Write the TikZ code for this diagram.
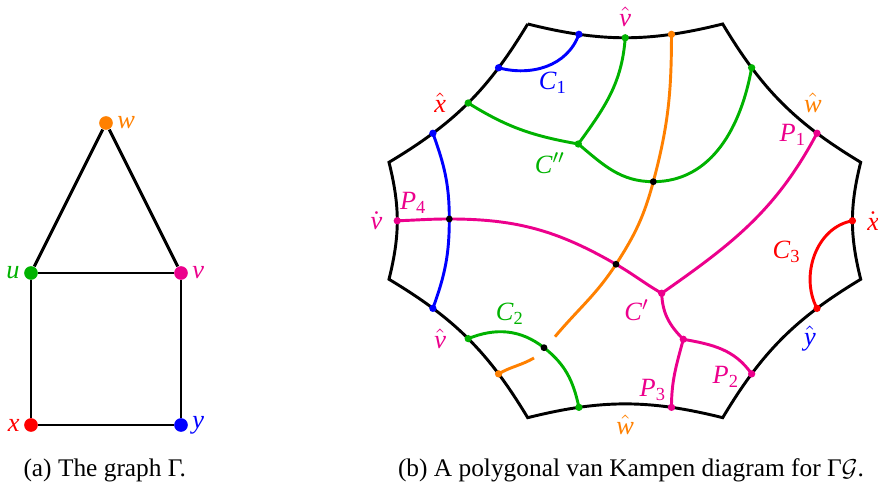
\documentclass[tikz,border=0pt]{standalone}
\usepackage{amsmath}
\usepackage{fontspec}
\setmainfont{Liberation Serif}
\usetikzlibrary{arrows.meta,positioning}
\definecolor{vorange}{RGB}{255,128,0}
\definecolor{vgreen}{RGB}{0,178,0}
\definecolor{vpink}{RGB}{236,0,140}
\definecolor{vred}{RGB}{255,0,0}
\definecolor{vblue}{RGB}{0,0,255}
\newcommand{\mi}[1]{\textit{#1}}

\begin{document}
\begin{tikzpicture}[
  x=0.41pt,y=0.41pt,
  every node/.style={font=\fontsize{10.4pt}{12pt}\selectfont},
  vertex/.style={circle,fill=#1,inner sep=0pt,minimum size=5.6pt},
  bdot/.style={circle,fill=#1,inner sep=0pt,minimum size=3pt},
  crossing/.style={circle,fill=black,inner sep=0pt,minimum size=2.8pt},
  link/.style={line width=1.2pt,black},
  rim/.style={line width=1.2pt,black},
  wall/.style={line width=1.2pt,#1},
  lab/.style={text=#1,inner sep=1.5pt,font=\fontsize{10.8pt}{12pt}\selectfont},
]
\useasboundingbox (0,0) rectangle (878,488);

% (a) the graph
\node[vertex=vorange] (w) at (106,365) {};
\node[vertex=vgreen] (u) at (31,215) {};
\node[vertex=vpink] (v) at (181,215) {};
\node[vertex=vred] (x) at (31,63) {};
\node[vertex=vblue] (y) at (181,63) {};
\node[lab=vorange,right=0pt of w] (wl) {$\mi{w}$};
\node[lab=vgreen,left=0pt of u] (ul) {$\mi{u}$};
\node[lab=vpink,right=0pt of v] (vl) {$\mi{v}$};
\node[lab=vred,left=0pt of x] (xl) {$\mi{x}$};
\node[lab=vblue,right=0pt of y] (yl) {$\mi{y}$};
\draw[link] (u) -- (w) -- (v);
\draw[link] (u) -- (v) -- (y) -- (x) -- (u);

% (b) the octagon
\coordinate (A) at (527.7,464);
\coordinate (B) at (722.7,464);
\coordinate (C) at (860.7,325.7);
\coordinate (D) at (860.7,208.7);
\coordinate (E) at (722.7,70.3);
\coordinate (F) at (527.7,70.3);
\coordinate (G) at (389,208.7);
\coordinate (H) at (389,325.7);

\draw[rim] (A)
  to[bend right=14] coordinate[pos=.25] (t1) coordinate[pos=.5] (t2) coordinate[pos=.75] (t3)
    node[pos=.5,above=2.5pt,lab=vpink] (lt) {$\hat{\mi{v}}$} (B)
  to[bend right=14] coordinate[pos=.25] (r1) coordinate[pos=.75] (r2)
    node[pos=.5,right=7pt,lab=vorange] (lr) {$\hat{\mi{w}}$} (C)
  to[bend right=14] coordinate[pos=.5] (r3)
    node[pos=.5,right=4pt,lab=vred] (lx) {$\dot{\mi{x}}$} (D)
  to[bend right=14] coordinate[pos=.25] (r4) coordinate[pos=.75] (r5)
    node[pos=.5,right=7pt,lab=vblue] (ly) {$\hat{\mi{y}}$} (E)
  to[bend right=14] coordinate[pos=.25] (b1) coordinate[pos=.75] (b2)
    node[pos=.5,below=2.5pt,lab=vorange] (lb) {$\hat{\mi{w}}$} (F)
  to[bend right=14] coordinate[pos=.25] (l1) coordinate[pos=.5] (l2) coordinate[pos=.75] (l3)
    node[pos=.5,left=7pt,lab=vpink] (ll) {$\hat{\mi{v}}$} (G)
  to[bend right=14] coordinate[pos=.5] (l4)
    node[pos=.5,left=4pt,lab=vpink] (lv) {$\dot{\mi{v}}$} (H)
  to[bend right=14] coordinate[pos=.25] (l5) coordinate[pos=.5] (l6) coordinate[pos=.75] (l7)
    node[pos=.5,left=7pt,lab=vred] (lh) {$\hat{\mi{x}}$} (A);

% junctions and crossings
\coordinate (J1) at (578.3,344);
\coordinate (J2) at (661.7,194.7);
\coordinate (J3) at (683.3,148.7);
\coordinate (X1) at (653.3,306.3);
\coordinate (X2) at (616,223.7);
\coordinate (X3) at (449.3,269);
\coordinate (X4) at (544,140.3);
\coordinate (O1) at (555,151.3);
\coordinate (O2) at (534,130);

% blue walls
\draw[wall=vblue] (l7) to[out=-15,in=-110] (t1);
\draw[wall=vblue] (l5) to[out=-70,in=90] (X3) to[out=-90,in=70] (l3);

% green walls
\draw[wall=vgreen] (l6) to[out=-32,in=170] (J1);
\draw[wall=vgreen] (t2) to[out=-94,in=54] (J1);
\draw[wall=vgreen] (J1) to[out=-40,in=180] (X1) to[out=0,in=-100] (r1);
\draw[wall=vgreen] (l2) to[out=22,in=142] (X4) to[out=-38,in=102] (b2);

% orange wall
\draw[wall=vorange] (t3) to[out=-90,in=75] (X1) to[out=-105,in=57] (X2) to[out=-123,in=50] (O1);
\draw[wall=vorange] (O2) to[out=-150,in=30] (l1);

% pink walls
\draw[wall=vpink] (l4) to[out=2,in=180] (X3) to[out=0,in=150] (X2) to[out=-30,in=150] (J2);
\draw[wall=vpink] (r2) to[out=-118,in=35] (J2);
\draw[wall=vpink] (J2) to[out=-88,in=135] (J3);
\draw[wall=vpink] (J3) to[out=-10,in=125] (r5);
\draw[wall=vpink] (J3) to[out=-105,in=90] (b1);

% red wall
\draw[wall=vred] (r3) to[out=190,in=118] (r4);

% dots
\foreach \p/\c in {t1/vblue,t2/vgreen,t3/vorange,r1/vgreen,r2/vpink,r3/vred,
  r4/vred,r5/vpink,b1/vpink,b2/vgreen,l1/vorange,l2/vgreen,l3/vblue,
  l4/vpink,l5/vblue,l6/vgreen,l7/vblue,J1/vgreen,J2/vpink,J3/vpink}
  \node[bdot=\c] (d\p) at (\p) {};
\foreach \p in {X1,X2,X3,X4}
  \node[crossing] (d\p) at (\p) {};

% wall labels
\node[lab=vblue] (c1) at (553,405) {$\mi{C}_{\textrm{1}}$};
\node[lab=vgreen] (cpp) at (550,325) {$\mi{C}''$};
\node[lab=vgreen] (c2) at (510,174.7) {$\mi{C}_{\textrm{2}}$};
\node[lab=vred] (c3) at (786.7,236.3) {$\mi{C}_{\textrm{3}}$};
\node[lab=vpink] (cp) at (636.7,178) {$\mi{C}'$};
\node[lab=vpink] (p1) at (793,353) {$\mi{P}_{\textrm{1}}$};
\node[lab=vpink] (p2) at (726,111) {$\mi{P}_{\textrm{2}}$};
\node[lab=vpink] (p3) at (653,98) {$\mi{P}_{\textrm{3}}$};
\node[lab=vpink] (p4) at (413.3,284.7) {$\mi{P}_{\textrm{4}}$};

% captions
\node (capa) at (104.7,18) {(a) The graph Γ.};
\node (capb) at (631,18) {(b) A polygonal van Kampen diagram for Γ$\mathcal{G}$.};

\end{tikzpicture}
\end{document}
